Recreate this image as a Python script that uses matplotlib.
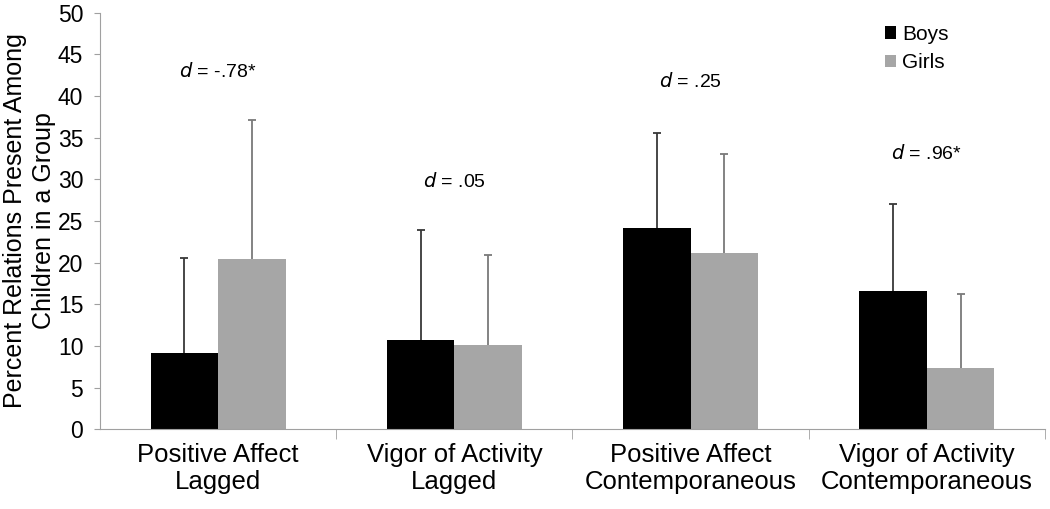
import matplotlib
matplotlib.use("Agg")
import matplotlib.pyplot as plt
import numpy as np

categories = ["Positive Affect\nLagged", "Vigor of Activity\nLagged",
              "Positive Affect\nContemporaneous", "Vigor of Activity\nContemporaneous"]
boys = [9.1, 10.7, 24.2, 16.6]
girls = [20.4, 10.1, 21.2, 7.3]
boys_err = [11.5, 13.2, 11.4, 10.5]
girls_err = [16.7, 10.8, 11.9, 8.9]
d_labels = ["-.78*", ".05", ".25", ".96*"]
d_heights = [42.9, 29.7, 41.7, 33.1]
yticks = list(range(0, 51, 5))

plt.rcParams['font.family'] = ['Liberation Sans', 'DejaVu Sans']
fig = plt.figure(figsize=(10.5, 5.09), dpi=100)
ax = fig.add_axes([0.0952, 0.1566, 0.9, 0.8184])

x = np.arange(len(categories))
w = 0.2857
ax.bar(x - w/2, boys, w, color="black", label="Boys", zorder=2)
ax.bar(x + w/2, girls, w, color="#a6a6a6", label="Girls", zorder=2)

b_top = np.array(boys) + np.array(boys_err)
g_top = np.array(girls) + np.array(girls_err)
ax.vlines(x - w/2, boys, b_top, color="#383838", lw=1.3, zorder=1)
ax.vlines(x + w/2, girls, g_top, color="#7a7a7a", lw=1.3, zorder=1)
ax.scatter(x - w/2, b_top, marker="_", s=40, color="#383838", linewidths=1.3, zorder=1)
ax.scatter(x + w/2, g_top, marker="_", s=40, color="#7a7a7a", linewidths=1.3, zorder=1)

for xi, lab, h in zip(x, d_labels, d_heights):
    ax.text(xi, h, r"$\it{d}$" + " = " + lab, ha="center", va="center", fontsize=14)

ax.set_xlim(-0.5, 3.5)
ax.set_ylim(0, 50)
ax.set_yticks(yticks)
ax.set_yticklabels([str(t) for t in yticks], fontsize=16.5)
ax.set_xticks(x)
ax.set_xticklabels(categories, fontsize=18.5, linespacing=1.15)
ax.set_xticks([0.5, 1.5, 2.5, 3.5], minor=True)
ax.tick_params(axis="x", which="major", length=0, pad=10)
ax.tick_params(axis="x", which="minor", length=7, color="#a0a0a0")
ax.tick_params(axis="y", length=4, color="#a0a0a0", pad=8)
for s in ["top", "right"]:
    ax.spines[s].set_visible(False)
ax.spines["left"].set_color("#a0a0a0")
ax.spines["bottom"].set_color("#a0a0a0")

ax.set_ylabel("Percent Relations Present Among\nChildren in a Group", fontsize=18,
              linespacing=1.3)
ax.yaxis.set_label_coords(-0.046, 0.5)

leg = ax.legend(loc="upper left", bbox_to_anchor=(0.815, 1.006), frameon=False, fontsize=15,
                handlelength=0.55, handleheight=0.55, handletextpad=0.3, labelspacing=0.45,
                borderpad=0.2)

fig.savefig("out.png", dpi=100)
